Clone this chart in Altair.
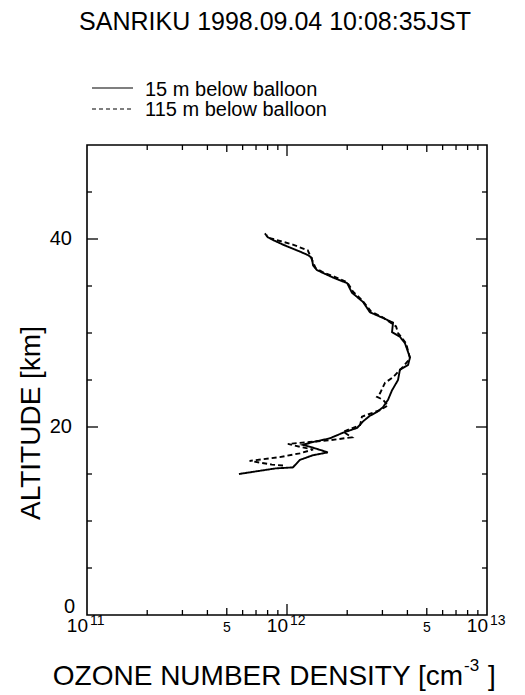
import altair as alt
import pandas as pd

# ---------------- data ----------------
series_names = ["15 m below balloon", "115 m below balloon"]

solid_alt = [15.0, 15.6, 15.7, 16.5, 17.0, 17.3, 17.8, 18.1, 18.4, 18.8, 19.4, 19.9,
             20.6, 21.2, 21.6, 22.1, 22.9, 23.9, 25.0, 26.1, 26.6, 27.4, 28.9, 29.6,
             30.1, 31.1, 31.6, 32.2, 33.3, 34.3, 35.3, 35.9, 36.4, 36.7, 37.2, 38.0,
             38.3, 38.8, 39.4, 39.9, 40.2, 40.6]
solid_dens = [0.575e12, 0.88e12, 1.07e12, 1.16e12, 1.35e12, 1.60e12, 1.35e12, 1.20e12,
              1.35e12, 1.64e12, 1.91e12, 2.24e12, 2.40e12, 2.60e12, 2.82e12, 3.02e12,
              3.20e12, 3.35e12, 3.59e12, 3.67e12, 4.03e12, 4.12e12, 3.89e12, 3.67e12,
              3.35e12, 3.39e12, 3.02e12, 2.60e12, 2.40e12, 2.11e12, 2.00e12, 1.70e12,
              1.51e12, 1.41e12, 1.35e12, 1.33e12, 1.27e12, 1.12e12, 0.955e12, 0.85e12,
              0.80e12, 0.775e12]

dashed_alt = [15.9, 16.0, 16.4, 16.8, 17.2, 17.6, 17.9, 18.2, 18.4, 18.6, 18.9, 19.5,
              20.2, 21.1, 21.8, 22.3, 22.9, 23.2, 23.6, 24.7, 25.3, 26.4, 27.3, 28.9,
              30.0, 30.7, 31.6, 32.3, 33.5, 34.4, 35.4, 36.0, 36.5, 36.9, 38.0, 38.8,
              39.4, 39.7, 40.1, 40.4]
dashed_dens = [0.955e12, 0.84e12, 0.65e12, 0.92e12, 1.16e12, 1.35e12, 1.16e12, 1.01e12,
               1.30e12, 1.64e12, 2.11e12, 1.91e12, 2.32e12, 2.37e12, 2.92e12, 3.20e12,
               3.02e12, 2.82e12, 2.92e12, 3.09e12, 3.39e12, 3.80e12, 4.12e12, 3.94e12,
               3.59e12, 3.51e12, 3.05e12, 2.63e12, 2.37e12, 2.14e12, 2.00e12, 1.72e12,
               1.50e12, 1.39e12, 1.32e12, 1.27e12, 1.07e12, 0.955e12, 0.82e12, 0.79e12]

y_major_ticks = [20, 40]
y_minor_ticks = [5, 10, 15, 25, 30, 35, 45]
y_tick_labels = [0, 20, 40]
x_major_ticks = [1e12]
x_mid_ticks = [5e11, 5e12]
x_minor_ticks = [2e11, 3e11, 4e11, 6e11, 7e11, 8e11, 9e11,
                 2e12, 3e12, 4e12, 6e12, 7e12, 8e12, 9e12]
x_decade_vals = [1e11, 1e12, 1e13]
x_decade_base = ["10", "10", "10"]
x_decade_exp = ["11", "12", "13"]
x_five_vals = [5e11, 5e12]
x_five_text = ["5", "5"]

title_text = "SANRIKU 1998.09.04 10:08:35JST"
y_title = "ALTITUDE [km]"
x_title_main = "OZONE NUMBER DENSITY [cm"
x_title_sup = "-3"
x_title_end = "]"

# ---------------- build ----------------
W, H = 400, 470
F = "Liberation Sans"

rows = []
for i, (a, d) in enumerate(zip(solid_alt, solid_dens)):
    rows.append({"series": series_names[0], "idx": i, "alt": a, "dens": d})
for i, (a, d) in enumerate(zip(dashed_alt, dashed_dens)):
    rows.append({"series": series_names[1], "idx": i, "alt": a, "dens": d})
df = pd.DataFrame(rows)

xscale = alt.Scale(type="log", domain=[1e11, 1e13], nice=False)
yscale = alt.Scale(domain=[0, 50], nice=False)

lines = alt.Chart(df).mark_line(color="black", strokeWidth=1.9, clip=True).encode(
    x=alt.X("dens:Q", scale=xscale, axis=None),
    y=alt.Y("alt:Q", scale=yscale, axis=None),
    strokeDash=alt.StrokeDash("series:N",
                              scale=alt.Scale(domain=series_names, range=[[1, 0], [5, 3]]),
                              legend=None),
    order=alt.Order("idx:Q"),
)


def yticks(vals, L):
    d = pd.DataFrame({"v": vals})
    base = alt.Chart(d).mark_rule(color="black", strokeWidth=1.3)
    left = base.encode(y=alt.Y("v:Q", scale=yscale, axis=None), x=alt.value(0), x2=alt.value(L))
    right = base.encode(y=alt.Y("v:Q", scale=yscale, axis=None), x=alt.value(W), x2=alt.value(W - L))
    return [left, right]


def xticks(vals, L):
    d = pd.DataFrame({"v": vals})
    base = alt.Chart(d).mark_rule(color="black", strokeWidth=1.3)
    bottom = base.encode(x=alt.X("v:Q", scale=xscale, axis=None), y=alt.value(H), y2=alt.value(H - L))
    top = base.encode(x=alt.X("v:Q", scale=xscale, axis=None), y=alt.value(0), y2=alt.value(L))
    return [bottom, top]


tick_layers = (yticks(y_major_ticks, 11) + yticks(y_minor_ticks, 5)
               + xticks(x_major_ticks, 11) + xticks(x_mid_ticks, 7) + xticks(x_minor_ticks, 5))

# x tick labels
dec_df = pd.DataFrame({"v": x_decade_vals, "base": x_decade_base, "exp": x_decade_exp})
dec_base = alt.Chart(dec_df).mark_text(align="right", baseline="alphabetic", fontSize=19,
                                        font=F, dx=1, color="black").encode(
    x=alt.X("v:Q", scale=xscale, axis=None), y=alt.value(H + 17), text="base:N")
dec_exp = alt.Chart(dec_df).mark_text(align="left", baseline="alphabetic", fontSize=14,
                                       font=F, dx=3, color="black").encode(
    x=alt.X("v:Q", scale=xscale, axis=None), y=alt.value(H + 10), text="exp:N")
five_df = pd.DataFrame({"v": x_five_vals, "t": x_five_text})
five = alt.Chart(five_df).mark_text(align="center", baseline="alphabetic", fontSize=14,
                                     font=F, color="black").encode(
    x=alt.X("v:Q", scale=xscale, axis=None), y=alt.value(H + 17), text="t:N")

# y tick labels
ylab_df = pd.DataFrame({"v": y_tick_labels})
ylab_hi = alt.Chart(ylab_df).transform_filter("datum.v > 0").mark_text(
    align="right", baseline="middle", fontSize=20, font=F, color="black").encode(
    y=alt.Y("v:Q", scale=yscale, axis=None), x=alt.value(-15), text="v:Q")
ylab_zero = alt.Chart(ylab_df).transform_filter("datum.v == 0").mark_text(
    align="right", baseline="middle", fontSize=20, font=F, color="black", dy=-8).encode(
    y=alt.Y("v:Q", scale=yscale, axis=None), x=alt.value(-12), text="v:Q")

# titles
one = pd.DataFrame({"t": [title_text]})
title = alt.Chart(one).mark_text(align="center", baseline="alphabetic", fontSize=25,
                                 font=F, color="black").encode(
    x=alt.value(188), y=alt.value(-115), text="t:N")

ytitle = alt.Chart(pd.DataFrame({"t": [y_title]})).mark_text(
    align="center", baseline="middle", angle=270, fontSize=28, font=F, color="black").encode(
    x=alt.value(-55), y=alt.value(278), text="t:N")

xt_main = alt.Chart(pd.DataFrame({"t": [x_title_main]})).mark_text(
    align="right", baseline="alphabetic", fontSize=28, font=F, color="black").encode(
    x=alt.value(376), y=alt.value(H + 70), text="t:N")
xt_sup = alt.Chart(pd.DataFrame({"t": [x_title_sup]})).mark_text(
    align="left", baseline="alphabetic", fontSize=17, font=F, color="black").encode(
    x=alt.value(377), y=alt.value(H + 56), text="t:N")
xt_end = alt.Chart(pd.DataFrame({"t": [x_title_end]})).mark_text(
    align="left", baseline="alphabetic", fontSize=28, font=F, color="black").encode(
    x=alt.value(401), y=alt.value(H + 70), text="t:N")

# legend
leg1 = pd.DataFrame({"t": [series_names[0]]})
leg2 = pd.DataFrame({"t": [series_names[1]]})
leg_line1 = alt.Chart(leg1).mark_rule(color="black", strokeWidth=1.2).encode(
    x=alt.value(5), x2=alt.value(46), y=alt.value(-57))
leg_line2 = alt.Chart(leg2).mark_rule(color="black", strokeWidth=1.2, strokeDash=[4, 3]).encode(
    x=alt.value(5), x2=alt.value(46), y=alt.value(-36))
leg_text1 = alt.Chart(leg1).mark_text(align="left", baseline="alphabetic", fontSize=20,
                                      font=F, color="black").encode(
    x=alt.value(58), y=alt.value(-49), text="t:N")
leg_text2 = alt.Chart(leg2).mark_text(align="left", baseline="alphabetic", fontSize=20,
                                      font=F, color="black").encode(
    x=alt.value(58), y=alt.value(-29), text="t:N")

chart = alt.layer(
    lines, *tick_layers, dec_base, dec_exp, five, ylab_hi, ylab_zero,
    title, ytitle, xt_main, xt_sup, xt_end,
    leg_line1, leg_line2, leg_text1, leg_text2,
).resolve_scale(strokeDash="independent").properties(
    width=W, height=H,
    autosize=alt.AutoSizeParams(type="none"),
    padding={"left": 87, "top": 145, "right": 38, "bottom": 80},
    background="white",
).configure_view(stroke="black", strokeWidth=1.6)

chart.save("out.html", embed_options={"renderer": "svg", "actions": False})
